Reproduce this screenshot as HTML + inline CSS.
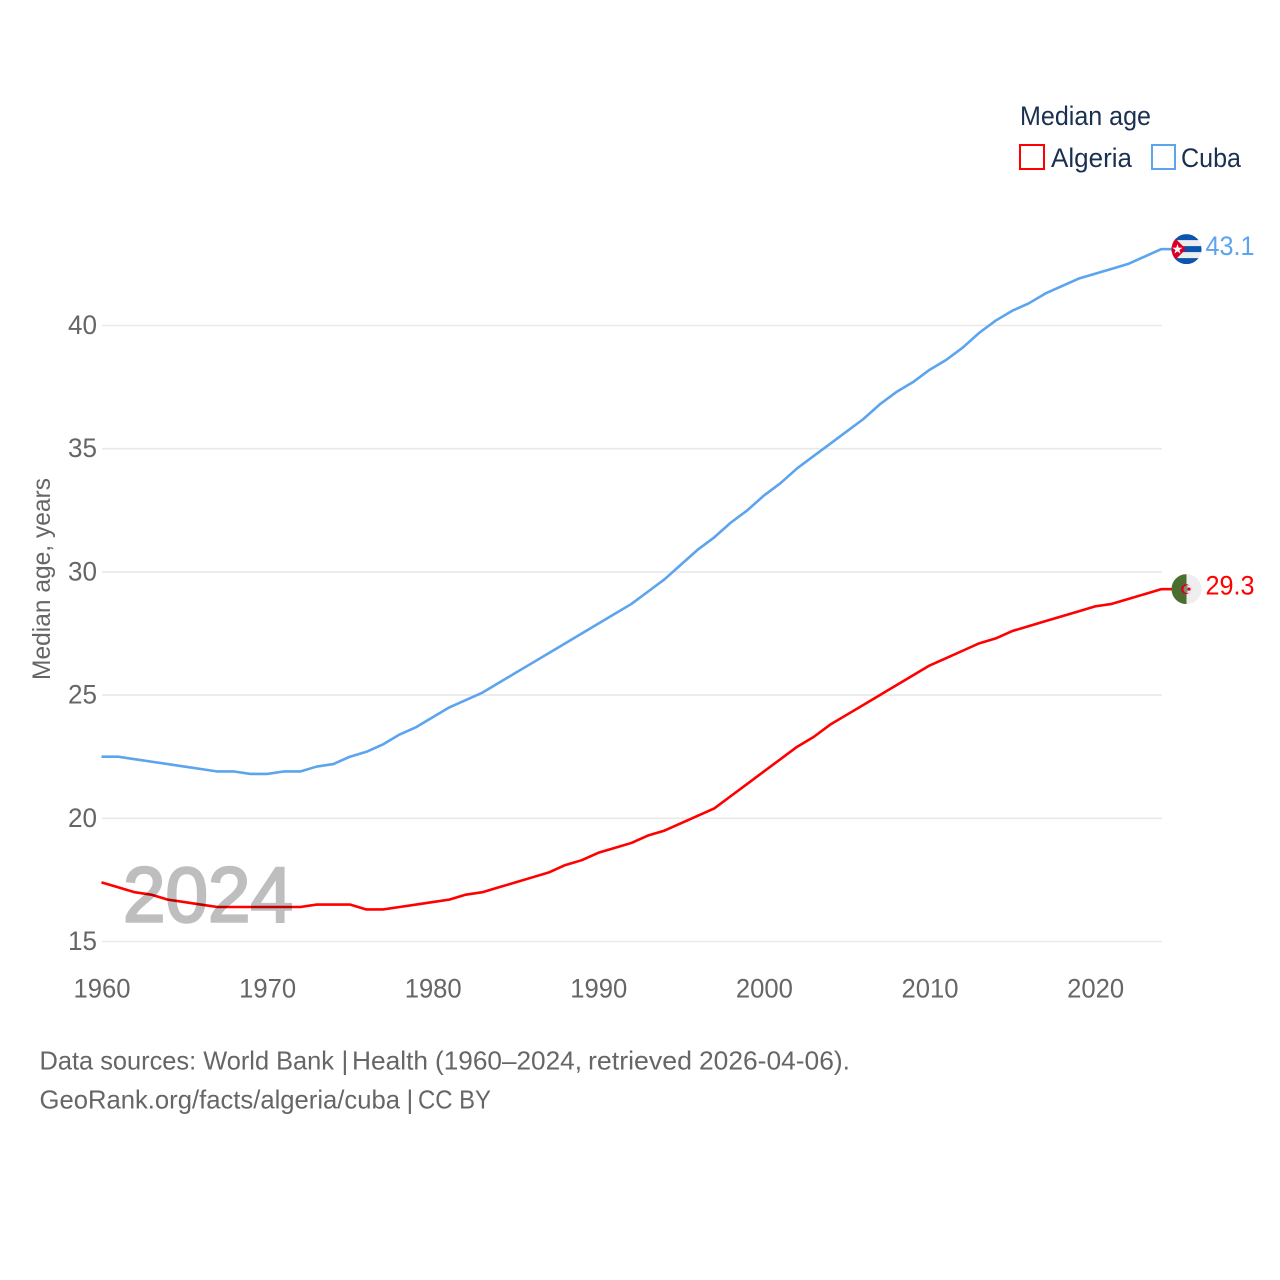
<!DOCTYPE html>
<html lang="en">
<head>
<meta charset="utf-8">
<title>Median age: Algeria and Cuba</title>
<style>
html,body{margin:0;padding:0;background:#fff;width:1280px;height:1280px;overflow:hidden}
svg{display:block}
text{font-family:"Liberation Sans",sans-serif}
</style>
</head>
<body>
<svg id="chart" xmlns="http://www.w3.org/2000/svg" width="1280" height="1280" viewBox="0 0 1280 1280">
  <rect width="1280" height="1280" fill="#fff"/>
  <g id="grid"></g>
  <g id="yticks"></g>
  <g id="xticks"></g>
  <text transform="translate(50,579) rotate(-90)" text-anchor="middle" font-size="25" fill="#666" textLength="202" lengthAdjust="spacingAndGlyphs">Median age, years</text>
  <g id="series"></g>
  <text x="123" y="921.5" font-size="78" font-weight="400" fill="#000" stroke="#000" stroke-width="2.5" opacity="0.25" textLength="170" lengthAdjust="spacingAndGlyphs">2024</text>
  <g id="ends"></g>

  <g>
    <text x="1020" y="125" font-size="26.5" fill="#1a3050" textLength="131" lengthAdjust="spacingAndGlyphs">Median age</text>
    <g>
      <rect x="1020" y="145" width="24" height="24" fill="#fff" stroke="#ff0000" stroke-width="2"/>
      <text x="1051" y="167" font-size="26.5" fill="#1a3050" textLength="81" lengthAdjust="spacingAndGlyphs">Algeria</text>
    </g>
    <g>
      <rect x="1152" y="145" width="23" height="24" fill="#fff" stroke="#5ca4ee" stroke-width="2"/>
      <text x="1181" y="167" font-size="26.5" fill="#1a3050" textLength="60" lengthAdjust="spacingAndGlyphs">Cuba</text>
    </g>
  </g>

  <text y="1069.5" font-size="26" fill="#666"><tspan x="39.5" textLength="294.5" lengthAdjust="spacingAndGlyphs">Data sources: World Bank</tspan> <tspan x="341.5">|</tspan> <tspan x="352" textLength="76" lengthAdjust="spacingAndGlyphs">Health</tspan> <tspan x="435" textLength="147" lengthAdjust="spacingAndGlyphs">(1960–2024,</tspan> <tspan x="588" textLength="104" lengthAdjust="spacingAndGlyphs">retrieved</tspan> <tspan x="699" textLength="151" lengthAdjust="spacingAndGlyphs">2026-04-06).</tspan></text>
  <text y="1108.5" font-size="26" fill="#666"><tspan x="39.5" textLength="360.5" lengthAdjust="spacingAndGlyphs">GeoRank.org/facts/algeria/cuba</tspan> <tspan x="406.5">|</tspan> <tspan x="418" textLength="73" lengthAdjust="spacingAndGlyphs">CC BY</tspan></text>
</svg>
<script>
const years = [1960,1961,1962,1963,1964,1965,1966,1967,1968,1969,1970,1971,1972,1973,1974,1975,1976,1977,1978,1979,1980,1981,1982,1983,1984,1985,1986,1987,1988,1989,1990,1991,1992,1993,1994,1995,1996,1997,1998,1999,2000,2001,2002,2003,2004,2005,2006,2007,2008,2009,2010,2011,2012,2013,2014,2015,2016,2017,2018,2019,2020,2021,2022,2023,2024];
const algeria = [17.4,17.2,17.0,16.9,16.7,16.6,16.5,16.4,16.4,16.4,16.4,16.4,16.4,16.5,16.5,16.5,16.3,16.3,16.4,16.5,16.6,16.7,16.9,17.0,17.2,17.4,17.6,17.8,18.1,18.3,18.6,18.8,19.0,19.3,19.5,19.8,20.1,20.4,20.9,21.4,21.9,22.4,22.9,23.3,23.8,24.2,24.6,25.0,25.4,25.8,26.2,26.5,26.8,27.1,27.3,27.6,27.8,28.0,28.2,28.4,28.6,28.7,28.9,29.1,29.3];
const cuba = [22.5,22.5,22.4,22.3,22.2,22.1,22.0,21.9,21.9,21.8,21.8,21.9,21.9,22.1,22.2,22.5,22.7,23.0,23.4,23.7,24.1,24.5,24.8,25.1,25.5,25.9,26.3,26.7,27.1,27.5,27.9,28.3,28.7,29.2,29.7,30.3,30.9,31.4,32.0,32.5,33.1,33.6,34.2,34.7,35.2,35.7,36.2,36.8,37.3,37.7,38.2,38.6,39.1,39.7,40.2,40.6,40.9,41.3,41.6,41.9,42.1,42.3,42.5,42.8,43.1];
const yTickValues = [15,20,25,30,35,40];
const xTickValues = [1960,1970,1980,1990,2000,2010,2020];
const algeriaLabel = "29.3";
const cubaLabel = "43.1";

const NS = "http://www.w3.org/2000/svg";
function xScale(year){ return 101.5 + (year - 1960) * 16.56; }
function yScale(v){ return 941.5 - (v - 15) * 24.64; }
function make(tag, attrs, text){
  const el = document.createElementNS(NS, tag);
  for (const k in attrs) el.setAttribute(k, attrs[k]);
  if (text !== undefined) el.textContent = text;
  return el;
}
const grid = document.getElementById('grid');
const yticks = document.getElementById('yticks');
const xticks = document.getElementById('xticks');
const seriesG = document.getElementById('series');
const ends = document.getElementById('ends');

yTickValues.forEach(function(v){
  const line = make('line', {x1:102, x2:1162, y1:yScale(v), y2:yScale(v), stroke:'#e9e9e9', 'stroke-width':1.6});
  
  
  grid.appendChild(line);
  const t = make('text', {x:97, y:yScale(v)+8.5, 'text-anchor':'end', 'font-size':26.5, fill:'#666', textLength:29, lengthAdjust:'spacingAndGlyphs'}, String(v));
  
  
  yticks.appendChild(t);
});
xTickValues.forEach(function(v){
  const t = make('text', {x:xScale(v)+0.5, y:997.5, 'text-anchor':'middle', 'font-size':26.5, fill:'#666', textLength:57, lengthAdjust:'spacingAndGlyphs'}, String(v));
  
  
  xticks.appendChild(t);
});

function pathFor(values){
  return values.map(function(v,i){ return (i?'L':'M') + xScale(years[i]).toFixed(2) + ' ' + yScale(v).toFixed(2); }).join(' ');
}
const cubaLine = make('path', {d:pathFor(cuba), fill:'none', stroke:'#5ca4ee', 'stroke-width':2.6, 'stroke-linejoin':'round'});


seriesG.appendChild(cubaLine);
const algeriaLine = make('path', {d:pathFor(algeria), fill:'none', stroke:'#ff0000', 'stroke-width':2.6, 'stroke-linejoin':'round'});


seriesG.appendChild(algeriaLine);

const defs = make('defs', {});
ends.appendChild(defs);
function clip(id, cy){
  const c = make('clipPath', {id:id});
  c.appendChild(make('circle', {cx:1186.5, cy:cy, r:15}));
  defs.appendChild(c);
}

/* Cuba end marker */
const cy1 = yScale(cuba[cuba.length-1]);
clip('clip-cuba', cy1);
const stub1 = make('line', {x1:1161, x2:1172, y1:cy1, y2:cy1, stroke:'#5ca4ee', 'stroke-width':2.6});


ends.appendChild(stub1);
const flag1 = make('g', {'clip-path':'url(#clip-cuba)'});


flag1.appendChild(make('rect', {x:1171, y:cy1-15, width:31, height:30, fill:'#eeeeee'}));
[-15,-3,9].forEach(function(o){
  flag1.appendChild(make('rect', {x:1171, y:cy1+o, width:31, height:6, fill:'#0a55ad'}));
});
flag1.appendChild(make('path', {d:'M1171 '+(cy1-15)+' L1186 '+cy1+' L1171 '+(cy1+15)+' Z', fill:'#d80027'}));
flag1.appendChild(make('text', {x:1177.5, y:cy1+4.5, 'text-anchor':'middle', 'font-size':13, fill:'#fff', style:'font-family:"DejaVu Sans",sans-serif'}, '★'));
ends.appendChild(flag1);
const val1 = make('text', {x:1205.5, y:cy1+6, 'font-size':26.5, fill:'#5ca4ee', textLength:49, lengthAdjust:'spacingAndGlyphs'}, cubaLabel);


ends.appendChild(val1);

/* Algeria end marker */
const cy2 = yScale(algeria[algeria.length-1]);
clip('clip-algeria', cy2);
const stub2 = make('line', {x1:1161, x2:1172, y1:cy2, y2:cy2, stroke:'#ff0000', 'stroke-width':2.6});


ends.appendChild(stub2);
const flag2 = make('g', {'clip-path':'url(#clip-algeria)'});


flag2.appendChild(make('rect', {x:1171, y:cy2-15, width:15.5, height:30, fill:'#496e2d'}));
flag2.appendChild(make('rect', {x:1186.5, y:cy2-15, width:15.5, height:30, fill:'#eeeeee'}));
flag2.appendChild(make('circle', {cx:1186, cy:cy2, r:5, fill:'#d80027'}));
flag2.appendChild(make('circle', {cx:1187.5, cy:cy2, r:4, fill:'#7f8f6a'}));
flag2.appendChild(make('path', {d:'M1187.5 '+(cy2-4)+' A4 4 0 0 1 1187.5 '+(cy2+4)+' Z', fill:'#eeeeee'}));
flag2.appendChild(make('circle', {cx:1189, cy:cy2, r:1.6, fill:'#d80027'}));
ends.appendChild(flag2);
const val2 = make('text', {x:1205.5, y:cy2+5.5, 'font-size':26.5, fill:'#ff0000', textLength:49, lengthAdjust:'spacingAndGlyphs'}, algeriaLabel);


ends.appendChild(val2);
</script>
</body>
</html>
